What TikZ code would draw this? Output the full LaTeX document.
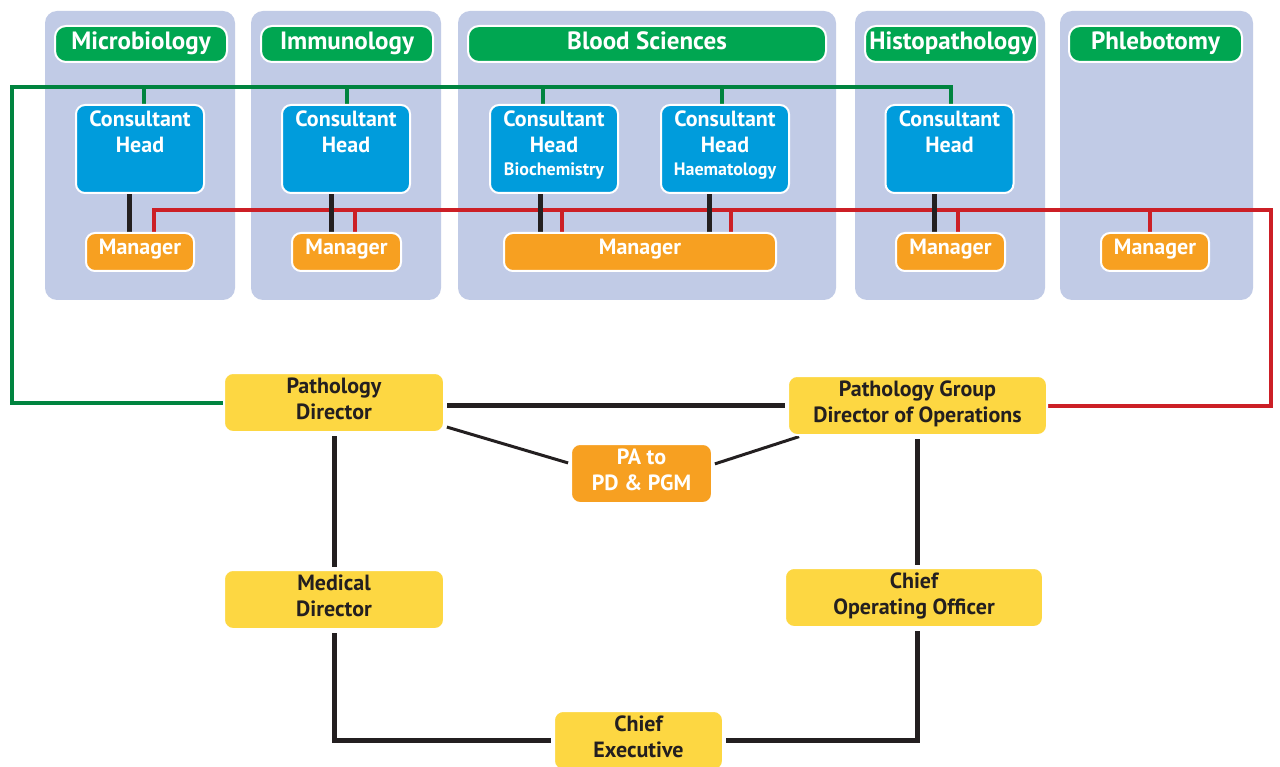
\documentclass[tikz,border=0pt]{standalone}
\usepackage{fontspec}
\setmainfont{PT Sans}
\usetikzlibrary{calc}
\definecolor{panelc}{HTML}{C1CBE6}
\definecolor{hdrgreen}{HTML}{00A651}
\definecolor{glinec}{HTML}{00843F}
\definecolor{cblue}{HTML}{009CDC}
\definecolor{morange}{HTML}{F7A021}
\definecolor{yelc}{HTML}{FDD742}
\definecolor{rlinec}{HTML}{CC1F26}
\definecolor{txtdark}{HTML}{231F20}
\pgfdeclarelayer{panels}
\pgfdeclarelayer{lines}
\pgfsetlayers{panels,lines,main}
\tikzset{
  box/.style={rounded corners=9pt, draw=white, line width=2pt, inner sep=0pt, align=center},
  hdr/.style={box, rounded corners=11pt, fill=hdrgreen, text=white, minimum height=36pt, text height=18pt, text depth=7pt, font=\bfseries\fontsize{25}{28}\selectfont},
  chead/.style={box, fill=cblue, minimum width=128pt, minimum height=88pt},
  clab/.style={anchor=north, inner sep=0pt, yshift=-7pt, text=white, align=center, font=\bfseries\fontsize{22}{26}\selectfont},
  mgr/.style={box, fill=morange, text=white, minimum height=38pt, text height=16pt, text depth=10pt, font=\bfseries\fontsize{22}{24}\selectfont},
  yel/.style={box, fill=yelc, text=txtdark, minimum height=59pt, text depth=8pt, font=\bfseries\fontsize{22}{26}\selectfont},
  pabox/.style={box, fill=morange, text=white, minimum height=59pt, text depth=7pt, font=\bfseries\fontsize{22}{26}\selectfont},
  panel/.style={fill=panelc, rounded corners=12pt},
  gline/.style={draw=glinec, line width=4pt},
  rline/.style={draw=rlinec, line width=4pt},
  bline/.style={draw=txtdark, line width=5pt},
  dline/.style={draw=txtdark, line width=3pt},
}
\begin{document}
\begin{tikzpicture}[x=1pt, y=-1pt]
\useasboundingbox (0,0) rectangle (1280,767);
% headers
\node[hdr, minimum width=172pt] (h1) at (141,44) {Microbiology};
\node[hdr, minimum width=172pt] (h2) at (347,44) {Immunology};
\node[hdr, minimum width=358pt] (h3) at (647,44) {Blood Sciences};
\node[hdr, minimum width=172pt] (h4) at (951,44) {Histopathology};
\node[hdr, minimum width=173pt] (h5) at (1155.5,44) {Phlebotomy};
% consultant heads
\node[chead, label={[clab]north:{Consultant\\Head}}] (c1) at (140,149) {};
\node[chead, label={[clab]north:{Consultant\\Head}}] (c2) at (346,149) {};
\node[chead, label={[clab]north:{Consultant\\Head\\[-3pt]{\fontsize{18}{20}\selectfont Biochemistry}}}] (c3) at (554,149) {};
\node[chead, label={[clab]north:{Consultant\\Head\\[-3pt]{\fontsize{18}{20}\selectfont Haematology}}}] (c4) at (725,149) {};
\node[chead, label={[clab]north:{Consultant\\Head}}] (c5) at (949.5,149) {};
% managers
\node[mgr, minimum width=108pt] (m1) at (140,252) {Manager};
\node[mgr, minimum width=109pt] (m2) at (346.5,252) {Manager};
\node[mgr, minimum width=272pt] (m3) at (640,252) {Manager};
\node[mgr, minimum width=109pt] (m4) at (950.5,252) {Manager};
\node[mgr, minimum width=108pt] (m5) at (1155,252) {Manager};
% bottom
\node[yel, minimum width=220pt] (pd) at (334,402.5) {Pathology\\Director};
\node[yel, minimum width=259pt] (pgdo) at (917.5,405.5) {Pathology Group\\Director of Operations};
\node[pabox, minimum width=141pt] (pa) at (641.5,473.5) {PA to\\PD \& PGM};
\node[yel, minimum width=220pt] (md) at (334,599.5) {Medical\\Director};
\node[yel, minimum width=258pt] (coo) at (914,597.5) {Chief\\Operating Officer};
\node[yel, minimum width=169pt] (ce) at (638.5,740.5) {Chief\\Executive};
\coordinate (gtop) at (0,87);
\coordinate (rtop) at (0,210);
\begin{pgfonlayer}{panels}
  \fill[white] (0,0) rectangle (1280,767);
  \fill[panel] (45,11) rectangle (235,300);
  \fill[panel] (251,11) rectangle (441,300);
  \fill[panel] (458,11) rectangle (836,300);
  \fill[panel] (855,11) rectangle (1045,300);
  \fill[panel] (1060,11) rectangle (1253,300);
\end{pgfonlayer}
\begin{pgfonlayer}{lines}
  % green
  \draw[gline] (pd.west) -| (12,87) -| ($(c5.north)+(1.5,0)$);
  \foreach \n/\dx in {c1/4,c2/1,c3/-11,c4/-3}
    \draw[gline] ($(\n.north)+(\dx,0)$) coordinate (t) -- (t |- gtop);
  % red
  \draw[rline] (pgdo.east) -| (1271,210) -| ($(m1.north)+(14,0)$);
  \foreach \n/\dx in {m2/8.5,m3/-78,m3/91,m4/7.5,m5/-5}
    \draw[rline] ($(\n.north)+(\dx,0)$) coordinate (t) -- (t |- rtop);
  % black consultant to manager
  \draw[bline] ($(c1.south)+(-11,0)$) coordinate (t) -- (t |- m1.north);
  \draw[bline] ($(c2.south)+(-15,0)$) coordinate (t) -- (t |- m2.north);
  \draw[bline] ($(c3.south)+(-14,0)$) coordinate (t) -- (t |- m3.north);
  \draw[bline] ($(c4.south)+(-16,0)$) coordinate (t) -- (t |- m3.north);
  \draw[bline] ($(c5.south)+(-15.5,0)$) coordinate (t) -- (t |- m4.north);
  % bottom
  \draw[bline, shorten <=2pt, shorten >=2pt] (pgdo.west -| pd.east) -- (pgdo.west);
  \draw[dline, shorten <=2pt, shorten >=2pt] ($(pd.east)+(0,24)$) -- ($(pa.west)+(0,-10)$);
  \draw[dline, shorten <=2pt, shorten >=2pt] ($(pa.east)+(0,-9)$) -- ($(pgdo.south west)+(14,0)$);
  \draw[bline, shorten <=3pt, shorten >=2pt] (pd.south) -- (md.north);
  \draw[bline, shorten <=3pt, shorten >=2pt] (pgdo.south) -- (pgdo.south |- coo.north);
  \draw[bline, shorten <=3pt, shorten >=2pt] (md.south) |- (ce.west);
  \draw[bline, shorten <=3pt, shorten >=2pt] (pgdo.south |- coo.south) |- (ce.east);
\end{pgfonlayer}
\end{tikzpicture}
\end{document}
